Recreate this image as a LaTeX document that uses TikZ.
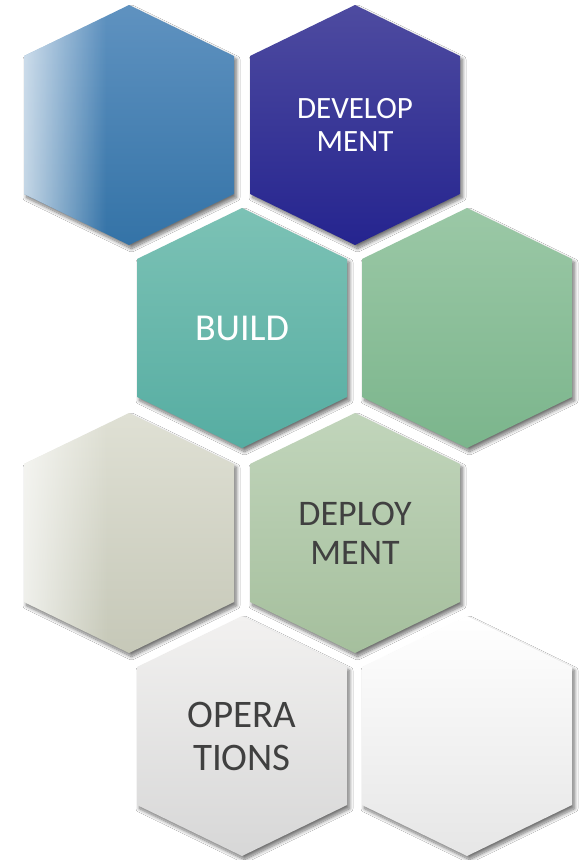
\documentclass[tikz,border=0pt]{standalone}
\usepackage{fontspec}
\setmainfont{Carlito}
\usetikzlibrary{shadows.blur,fadings}
\definecolor{bluetop}{HTML}{5F92C0}
\definecolor{bluebot}{HTML}{3473A7}
\definecolor{navytop}{HTML}{4E4BA0}
\definecolor{navybot}{HTML}{25248F}
\definecolor{tealtop}{HTML}{7CC2B5}
\definecolor{tealbot}{HTML}{56ADA2}
\definecolor{greentop}{HTML}{9BC8A6}
\definecolor{greenbot}{HTML}{7BB58C}
\definecolor{beigetop}{HTML}{DFE0D4}
\definecolor{beigebot}{HTML}{C6C8B8}
\definecolor{sagetop}{HTML}{C1D5BB}
\definecolor{sagebot}{HTML}{A5BF9D}
\definecolor{greytop}{HTML}{F2F1F0}
\definecolor{greybot}{HTML}{D7D7D7}
\definecolor{whitebot}{HTML}{E6E6E6}
\definecolor{darktext}{HTML}{404040}
\tikzfading[name=fadewhite, left color=transparent!30, right color=transparent!100]
\newcommand\hexshape[2]{(#1,#2-120) -- (#1+105,#2-69) -- (#1+105,#2+69) -- (#1,#2+120) -- (#1-105,#2+69) -- (#1-105,#2-69) -- cycle}
\tikzset{
  hexbox/.style={blur shadow={shadow xshift=2.5pt, shadow yshift=-3.5pt, shadow blur radius=3.5pt, shadow blur steps=10, shadow opacity=55}},
  whitelabel/.style={text=white, align=center, inner sep=0pt},
  darklabel/.style={text=darktext, align=center, inner sep=0pt}
}
\begin{document}
\begin{tikzpicture}[x=1pt,y=-1pt]
\useasboundingbox[fill=white] (0,0) rectangle (581,860);
% row 1
\shade[hexbox, top color=bluetop, bottom color=bluebot] \hexshape{129}{125};
\begin{scope}
\clip \hexshape{129}{125};
\fill[white, path fading=fadewhite] (24,0) rectangle (106,250);
\end{scope}
\shade[hexbox, top color=navytop, bottom color=navybot] \hexshape{355}{125};
% row 2
\shade[hexbox, top color=tealtop, bottom color=tealbot] \hexshape{242}{328};
\shade[hexbox, top color=greentop, bottom color=greenbot] \hexshape{467}{328};
% row 3
\shade[hexbox, top color=beigetop, bottom color=beigebot] \hexshape{129}{533};
\begin{scope}
\clip \hexshape{129}{533};
\fill[white, path fading=fadewhite] (24,410) rectangle (108,656);
\end{scope}
\shade[hexbox, top color=sagetop, bottom color=sagebot] \hexshape{355}{533};
% row 4
\shade[hexbox, top color=greytop, bottom color=greybot] \hexshape{242}{736};
\shade[hexbox, top color=white, middle color=white, bottom color=whitebot] \hexshape{467}{736};
% labels
\node[whitelabel, font=\fontsize{31}{33}\selectfont] (dev) at (355,125) {DEVELOP\\MENT};
\node[whitelabel, font=\fontsize{38}{44}\selectfont] (build) at (242,328) {BUILD};
\node[darklabel, font=\fontsize{36}{39}\selectfont] (deploy) at (355,533) {DEPLOY\\MENT};
\node[darklabel, font=\fontsize{39}{43}\selectfont] (ops) at (242,736) {OPERA\\TIONS};
\end{tikzpicture}
\end{document}
